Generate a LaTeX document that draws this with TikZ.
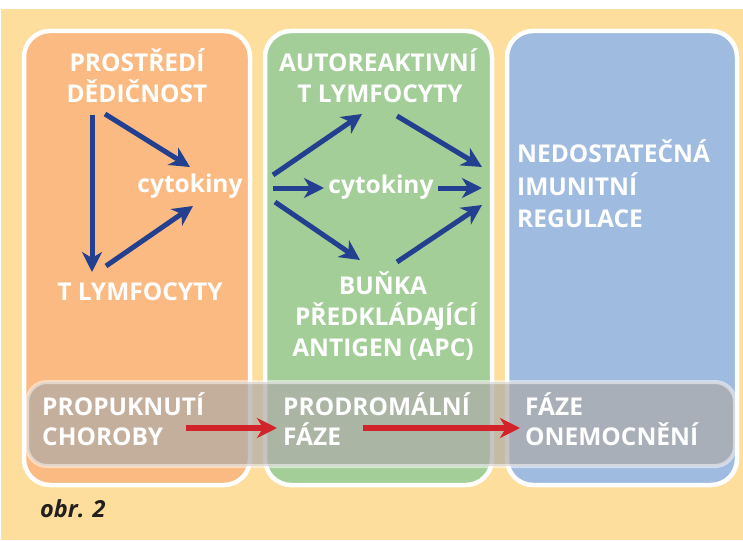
\documentclass[tikz,border=0pt]{standalone}
\usepackage{fontspec}
\setmainfont{Open Sans}
\usetikzlibrary{arrows.meta}
\definecolor{bgyellow}{HTML}{FDDE9C}
\definecolor{orangebox}{HTML}{FBBA81}
\definecolor{greenbox}{HTML}{A3CE98}
\definecolor{bluebox}{HTML}{A0BBE0}
\definecolor{arrowblue}{HTML}{233F8F}
\definecolor{arrowred}{HTML}{D2232A}
\definecolor{bandgray}{HTML}{AEABA8}
\definecolor{captiondark}{HTML}{231F20}
\begin{document}
\begin{tikzpicture}[x=1pt,y=-1pt,
  panel/.style={draw=white, line width=4.5pt, rounded corners=26pt},
  lbl/.style={text=white, font=\fontsize{24.5}{28}\selectfont\bfseries, anchor=base, inner sep=0pt},
  lblw/.style={lbl, anchor=base west},
  barrow/.style={draw=arrowblue, line width=5pt, -{Stealth[length=20pt, width=20pt, inset=6pt]}},
  rarrow/.style={draw=arrowred, line width=5.5pt, -{Stealth[length=20pt, width=20pt, inset=6pt]}}]
\useasboundingbox (0,0) rectangle (743,540);
\fill[white] (0,0) rectangle (743,540);
\fill[bgyellow] (1,9) rectangle (743,540);
% panels
\draw[panel, fill=orangebox] (24,31) rectangle (250,485);
\draw[panel, fill=greenbox] (265,31) rectangle (492,485);
\draw[panel, fill=bluebox] (507,31) rectangle (737,485);
% band
\path[fill=bandgray, fill opacity=0.7, draw=white, draw opacity=0.5, line width=4pt, rounded corners=20pt] (27,382) rectangle (735,466);
% left panel text
\node[lbl] (prostredi) at (137,72) {PROSTŘEDÍ};
\node[lbl] (dedicnost) at (137,103) {DĚDIČNOST};
\node[lbl] (cyt1) at (190,192) {cytokiny};
\node[lbl] (tlym1) at (140,300) {T LYMFOCYTY};
% green panel text
\node[lbl] (autor) at (378,72) {AUTOREAKTIVNÍ};
\node[lbl] (tlym2) at (380,103) {T LYMFOCYTY};
\node[lbl] (cyt2) at (381,193) {cytokiny};
\node[lbl] (bunka) at (383,294) {BUŇKA};
\node[lbl] (predk) at (386,325) {PŘEDKLÁDA\kern-3pt JÍCÍ};
\node[lbl] (antigen) at (383,356) {ANTIGEN (APC)};
% blue panel text
\node[lblw] (nedost) at (517,163) {NEDOSTATEČNÁ};
\node[lblw] (imun) at (517,195) {IMUNITNÍ};
\node[lblw] (regul) at (517,227) {REGULACE};
% band text
\node[lblw] (propuk) at (42,415) {PROPUKNUTÍ};
\node[lblw] (chor) at (42,445) {CHOROBY};
\node[lblw] (prodrom) at (283,415) {PRODROMÁLNÍ};
\node[lblw] (faze1) at (283,445) {FÁZE};
\node[lblw] (faze2) at (525,415) {FÁZE};
\node[lblw] (onem) at (525,445) {ONEMOCNĚNÍ};
% caption
\node[anchor=base west, inner sep=0pt, text=captiondark, font=\fontsize{23.5}{27}\selectfont\bfseries\itshape] (obr) at (40,517) {obr. 2};
% arrow end points
\coordinate (a1s) at (92,115); \coordinate (a1e) at (92,272);
\coordinate (a2s) at (105,114); \coordinate (a2e) at (190,167);
\coordinate (a3s) at (106,266); \coordinate (a3e) at (193,206);
\coordinate (g1s) at (273,175); \coordinate (g1e) at (362,114);
\coordinate (g2s) at (397,116); \coordinate (g2e) at (482,167);
\coordinate (g3s) at (273,188); \coordinate (g3e) at (324,188);
\coordinate (g4s) at (438,188); \coordinate (g4e) at (482,188);
\coordinate (g5s) at (275,202); \coordinate (g5e) at (360,260);
\coordinate (g6s) at (397,262); \coordinate (g6e) at (482,205);
\coordinate (r1s) at (186,428); \coordinate (r1e) at (277,428);
\coordinate (r2s) at (363,428); \coordinate (r2e) at (520,428);
% arrows
\draw[barrow] (a1s) -- (a1e);
\draw[barrow] (a2s) -- (a2e);
\draw[barrow] (a3s) -- (a3e);
\draw[barrow] (g1s) -- (g1e);
\draw[barrow] (g2s) -- (g2e);
\draw[barrow] (g3s) -- (g3e);
\draw[barrow] (g4s) -- (g4e);
\draw[barrow] (g5s) -- (g5e);
\draw[barrow] (g6s) -- (g6e);
\draw[rarrow] (r1s) -- (r1e);
\draw[rarrow] (r2s) -- (r2e);
\end{tikzpicture}
\end{document}
